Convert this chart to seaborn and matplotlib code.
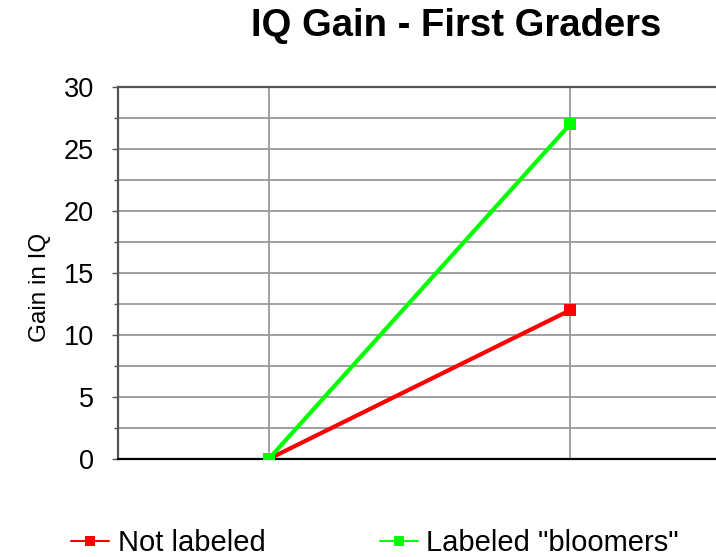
import matplotlib
matplotlib.use('Agg')
import matplotlib.pyplot as plt
import seaborn as sns
import pandas as pd
from matplotlib.ticker import MultipleLocator

# ── Data ─────────────────────────────────────────────────────
timepoints   = [0, 1]               # start of year, end of year
not_labeled  = [0, 12]
bloomers     = [0, 27]
series_names = ["Not labeled", 'Labeled "bloomers"']
colors       = ["#ff0000", "#00ff00"]

df = pd.DataFrame({
    "time" : timepoints * 2,
    "gain" : not_labeled + bloomers,
    "group": [series_names[0]] * 2 + [series_names[1]] * 2,
})

# ── Figure ───────────────────────────────────────────────────
sns.set_style("white")
plt.rcParams['font.family'] = ['Liberation Sans', 'DejaVu Sans']
plt.rcParams['text.color'] = 'black'
plt.rcParams['axes.labelcolor'] = 'black'
plt.rcParams['ytick.labelcolor'] = 'black'

fig = plt.figure(figsize=(7.16, 5.57), dpi=100)
ax = fig.add_axes([0.1648, 0.176, 0.835, 0.668])

sns.lineplot(data=df, x="time", y="gain", hue="group",
             palette=dict(zip(series_names, colors)),
             marker="s", markersize=8, markeredgewidth=0,
             linewidth=3, ax=ax, legend=False, zorder=3)

ax.set_xlim(-0.5, 1.483)
ax.set_ylim(0, 30)
ax.yaxis.set_major_locator(MultipleLocator(5))
ax.yaxis.set_minor_locator(MultipleLocator(2.5))
ax.set_xticks(timepoints)
ax.set_xticklabels([])
ax.tick_params(axis='x', length=0)
ax.tick_params(axis='y', which='major', length=4.5, width=1, color='#555555',
               labelsize=19.5, labelcolor='black', pad=13, left=True)
ax.tick_params(axis='y', which='minor', length=3, width=1, color='#555555', left=True)

ax.grid(True, which='both', axis='y', color='#999999', linewidth=1.3)
ax.grid(True, which='major', axis='x', color='#999999', linewidth=1.3)
ax.set_axisbelow(True)

for side in ['left', 'top']:
    ax.spines[side].set_color('#555555')
    ax.spines[side].set_linewidth(1.6)
ax.spines['bottom'].set_color('black')
ax.spines['bottom'].set_linewidth(1.6)
ax.spines['right'].set_visible(False)

ax.set_xlabel("")
ax.set_ylabel("Gain in IQ", fontsize=17.5, color='black')
ax.yaxis.set_label_coords(-0.112, 0.46)

fig.text(0.637, 0.953, "IQ Gain - First Graders", fontsize=27.5,
         fontweight='bold', ha='center', va='center', color='black')

handles = [plt.Line2D([], [], color=c, marker='s', markersize=7,
                      markeredgewidth=0, linewidth=1.5) for c in colors]
fig.legend(handles, series_names, loc='center', ncol=2, frameon=False,
           bbox_to_anchor=(0.524, 0.025), fontsize=21, handlelength=1.3,
           handletextpad=0.3, columnspacing=3.9, labelcolor='black')

plt.savefig("out.png", dpi=100)
